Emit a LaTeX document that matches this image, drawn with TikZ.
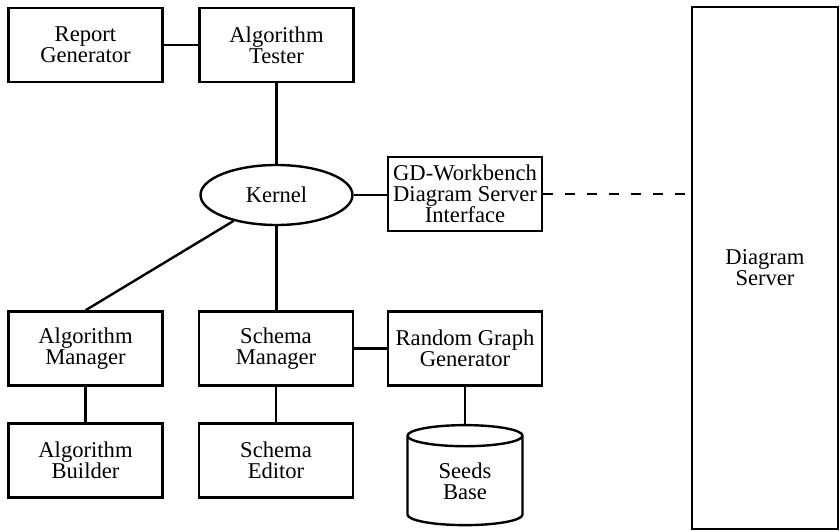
\documentclass[tikz,border=0pt]{standalone}
\usepackage{fontspec}
\setmainfont{Liberation Serif}
\usetikzlibrary{shapes.geometric}
\tikzset{
  unit/.style={draw, line width=1.2pt, minimum width=77pt, minimum height=37pt,
    inner sep=0pt, align=center, font=\fontsize{11.3}{10.4}\selectfont},
  link/.style={line width=1.2pt},
}
\begin{document}
\begin{tikzpicture}[x=0.5pt, y=-0.5pt]
  \useasboundingbox (0,0) rectangle (840,530);

  \node[unit] (report) at (85.5,45) {Report\\Generator};
  \node[unit] (tester) at (276.5,45) {Algorithm\\Tester};
  \node[unit, ellipse, minimum width=76pt, minimum height=30pt] (kernel) at (276.5,195) {Kernel};
  \node[unit] (gd) at (465,194) {GD-Workbench\\Diagram Server\\Interface};
  \node[unit, minimum width=73pt, minimum height=261pt] (server) at (765,268) {Diagram\\Server};

  \node[unit] (manager) at (85.5,348.5) {Algorithm\\Manager};
  \node[unit] (schema) at (276,348.5) {Schema\\Manager};
  \node[unit] (random) at (465,348.5) {Random Graph\\Generator};
  \node[unit] (builder) at (85.5,460.5) {Algorithm\\Builder};
  \node[unit] (editor) at (276,460.5) {Schema\\Editor};
  \node[unit, cylinder, shape border rotate=90, aspect=0.4,
    minimum width=57.5pt, minimum height=50pt] (seeds) at (465,481) {Seeds\\Base};

  \draw[link] (report) -- (tester);
  \draw[link] (tester.south) -- (tester.south |- kernel.north);
  \draw[link] (kernel.east) -- (kernel.east -| gd.west);
  \draw[link, dash pattern=on 5pt off 6pt] (gd.east) -- (gd.east -| server.west);
  \draw[link] (manager.north) -- (kernel);
  \draw[link] (kernel.south) -- (kernel.south |- schema.north);
  \draw[link] (schema) -- (random);
  \draw[link] (manager) -- (builder);
  \draw[link] (schema) -- (editor);
  \draw[link] (random.south) -- (random.south |- seeds.north);
\end{tikzpicture}
\end{document}
